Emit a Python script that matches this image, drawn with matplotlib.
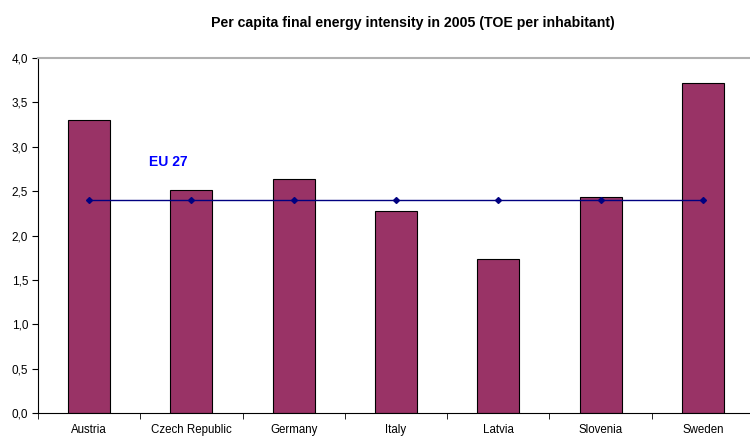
import matplotlib
matplotlib.use("Agg")
import matplotlib.pyplot as plt
import numpy as np

countries = ["Austria", "Czech Republic", "Germany", "Italy", "Latvia", "Slovenia", "Sweden"]
values = [3.30, 2.51, 2.64, 2.28, 1.74, 2.43, 3.72]
eu27 = [2.40] * len(countries)
yticks = [0.0, 0.5, 1.0, 1.5, 2.0, 2.5, 3.0, 3.5, 4.0]

plt.rcParams['font.family'] = ['Liberation Sans', 'DejaVu Sans']

fig = plt.figure(figsize=(7.5, 4.36), dpi=100)
ax = fig.add_axes([38/750, 1 - 413/436, 716/750, 355/436])

x = np.arange(len(countries))
ax.bar(x, values, width=0.41, color="#993366", edgecolor="black", linewidth=0.8, zorder=2)
ax.plot(x, eu27, color="#000080", linewidth=1.0, marker="D", markersize=3, zorder=3)
ax.text(0.77, 2.83, "EU 27", color="#0000FF", fontsize=10, fontweight="bold", ha="center", va="center")

ax.set_xlim(-0.5, len(countries) - 0.5)
ax.set_ylim(0, 4.0)
ax.set_yticks(yticks)
ax.set_yticklabels([f"{v:.1f}".replace(".", ",") for v in yticks], fontsize=8.5)
ax.set_xticks(x)
ax.set_xticklabels(countries, fontsize=8.3)
ax.tick_params(axis="x", length=0, pad=8)
ax.set_xticks(np.arange(-0.5, len(countries), 1.0), minor=True)
ax.tick_params(axis="x", which="minor", length=4, direction="out", color="black")
ax.tick_params(axis="y", length=4, direction="out", color="black", pad=3)

ax.spines["right"].set_visible(False)
ax.spines["top"].set_color("#b0b0b0")
ax.spines["top"].set_linewidth(1.5)
ax.spines["left"].set_color("black")
ax.spines["bottom"].set_color("black")

fig.text(413/750, 1 - 23/436, "Per capita final energy intensity in 2005 (TOE per inhabitant)",
         ha="center", va="center", fontsize=10.2, fontweight="bold")

fig.savefig("out.png", dpi=100)
